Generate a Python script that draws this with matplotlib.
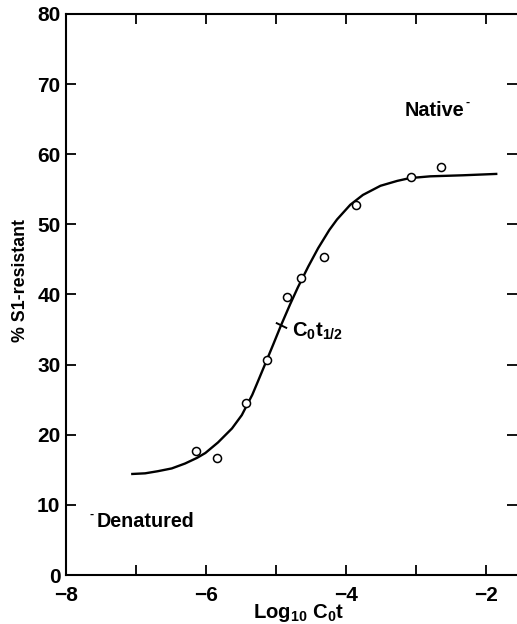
import matplotlib
matplotlib.use('Agg')
import matplotlib.pyplot as plt

plt.rcParams['font.family'] = ['Liberation Sans', 'DejaVu Sans']
plt.rcParams['font.weight'] = 'bold'
plt.rcParams['mathtext.fontset'] = 'custom'
plt.rcParams['mathtext.rm'] = 'Liberation Sans:bold'
plt.rcParams['mathtext.bf'] = 'Liberation Sans:bold'
plt.rcParams['mathtext.it'] = 'Liberation Sans:bold'
plt.rcParams['mathtext.default'] = 'bf'

# measured points (log10 C0t, % S1-resistant)
pt_x = [-6.14, -5.84, -5.43, -5.13, -4.84, -4.64, -4.31, -3.86, -3.07, -2.64]
pt_y = [17.7, 16.7, 24.5, 30.6, 39.6, 42.3, 45.3, 52.7, 56.7, 58.2]

# fitted curve
curve_x = [-7.07, -6.87, -6.69, -6.49, -6.30, -6.13, -6.01, -5.83, -5.63, -5.49,
           -5.34, -5.26, -5.16, -5.04, -4.93, -4.80, -4.69, -4.54, -4.40, -4.24,
           -4.13, -3.94, -3.76, -3.51, -3.27, -3.09, -2.80, -2.33, -1.84]
curve_y = [14.4, 14.5, 14.8, 15.2, 15.9, 16.7, 17.4, 18.9, 20.9, 22.8,
           25.7, 27.6, 30.0, 32.9, 35.6, 38.6, 41.0, 44.0, 46.6, 49.2,
           50.7, 52.8, 54.2, 55.5, 56.2, 56.6, 56.85, 57.0, 57.2]

half_x, half_y = -4.93, 35.6  # C0t1/2

fig = plt.figure(figsize=(5.17, 6.24), dpi=100)
ax = fig.add_axes([0.1277, 0.0785, 0.8723, 0.8991])
ax.set_xlim(-8, -1.56)
ax.set_ylim(0, 80)

ax.plot(curve_x, curve_y, color='black', lw=1.7, zorder=2,
        solid_joinstyle='round', solid_capstyle='butt')
ax.plot(pt_x, pt_y, 'o', ms=5.8, mfc='white', mec='black', mew=1.1, zorder=3)

# small tick across the curve at C0t1/2
ax.plot([half_x], [half_y], marker=(2, 0, 64), ms=9, mew=1.4, color='black', zorder=4)
ax.text(half_x + 0.16, half_y - 0.9, r'C$_0$t$_{1/2}$', fontsize=14.5,
        va='center', ha='left')

ax.text(-3.17, 66.3, 'Native', fontsize=14.3, va='center', ha='left')
ax.text(-2.29, 67.4, '-', fontsize=9, va='center', ha='left')
ax.text(-7.66, 8.6, '-', fontsize=9, va='center', ha='left')
ax.text(-7.56, 7.7, 'Denatured', fontsize=14.2, va='center', ha='left')

ax.spines['right'].set_visible(False)
for s in ['left', 'bottom', 'top']:
    ax.spines[s].set_linewidth(1.5)

ax.set_xticks([-8, -7, -6, -5, -4, -3, -2])
ax.set_xticklabels(['\u22128', '', '\u22126', '', '\u22124', '', '\u22122'])
ax.set_yticks([0, 10, 20, 30, 40, 50, 60, 70, 80])
ax.tick_params(direction='in', length=7, width=1.3, labelsize=15, top=True, right=True)
ax.tick_params(axis='x', pad=8)
ax.tick_params(axis='y', pad=4)
for lab in ax.get_xticklabels() + ax.get_yticklabels():
    lab.set_fontweight('bold')

fig.text(21 / 517, 1 - 281 / 624, '% S1-resistant', rotation=90, fontsize=12.8,
         ha='center', va='center')
fig.text(298 / 517, 1 - 613 / 624, r'Log$_{10}$ C$_0$t', fontsize=14.6,
         ha='center', va='center')

fig.savefig('out.png', dpi=100)
